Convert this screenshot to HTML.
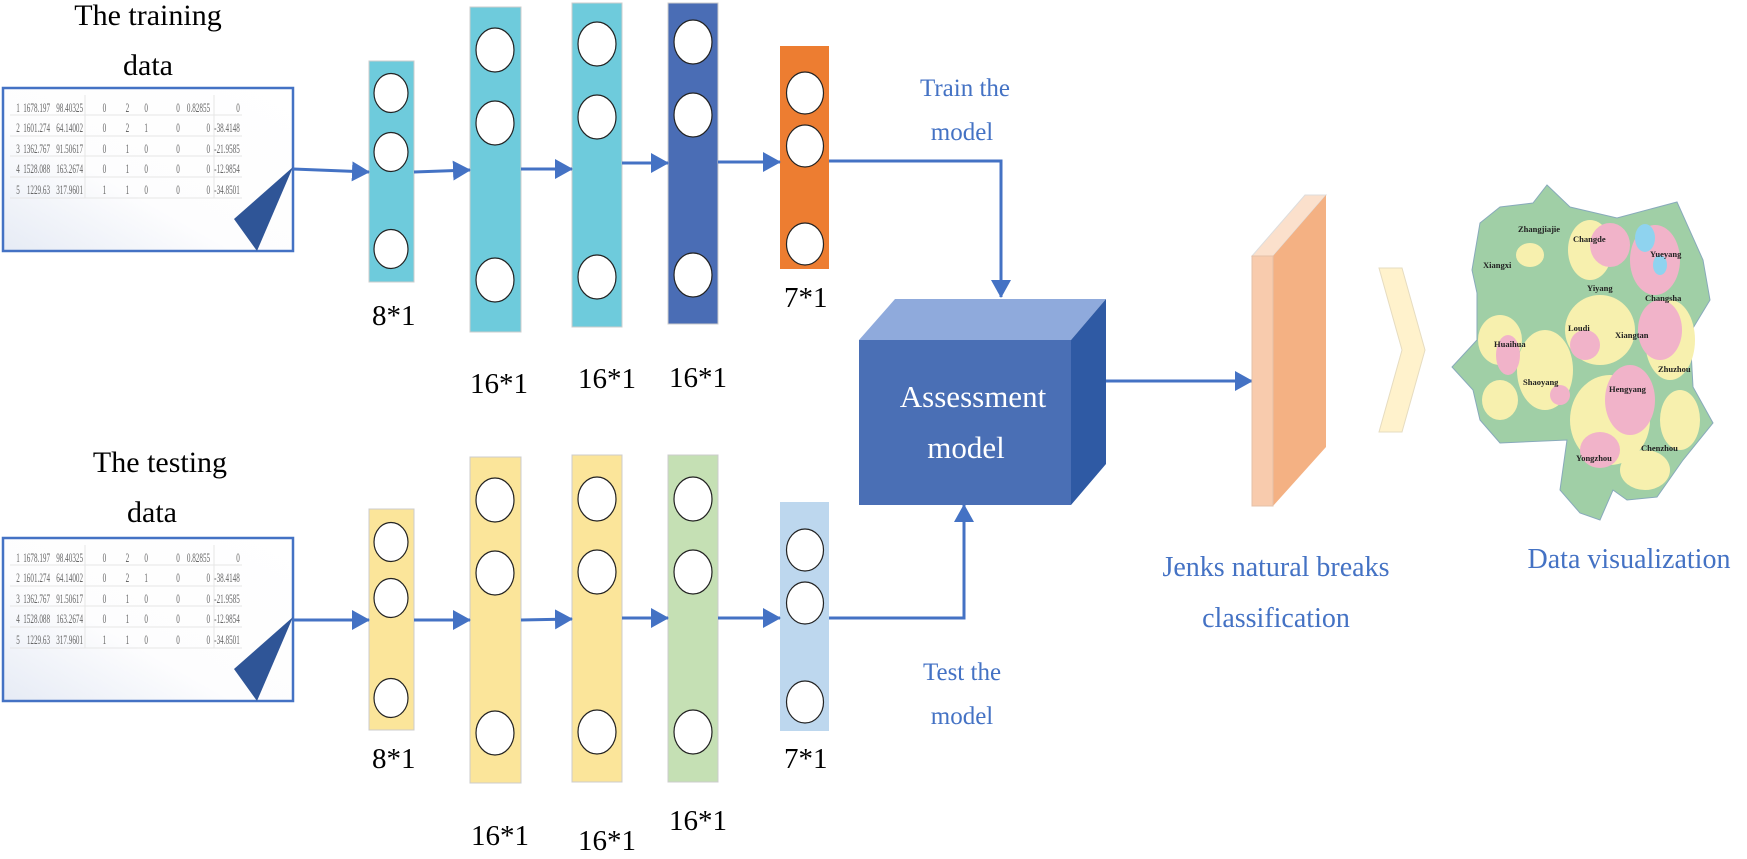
<!DOCTYPE html>
<html><head><meta charset="utf-8"><style>
body{margin:0;background:#fff}
svg text{font-family:"Liberation Serif",serif}
</style></head><body>
<svg width="1747" height="854" viewBox="0 0 1747 854" xmlns="http://www.w3.org/2000/svg">
<defs>
<marker id="a" markerWidth="18" markerHeight="20" refX="17" refY="10" orient="auto" markerUnits="userSpaceOnUse"><path d="M0,0 L18,10 L0,20 z" fill="#4472c4"/></marker>
<linearGradient id="g" x1="1" y1="0" x2="0" y2="1"><stop offset="0" stop-color="#fff"/><stop offset="0.6" stop-color="#fdfdfe"/><stop offset="1" stop-color="#e6ebf5"/></linearGradient>
</defs>
<text x="148" y="25" font-size="30" text-anchor="middle">The training</text>
<text x="148" y="75" font-size="30" text-anchor="middle">data</text>
<text x="160" y="472" font-size="30" text-anchor="middle">The testing</text>
<text x="152" y="522" font-size="30" text-anchor="middle">data</text>

<g id="tb">
<rect x="3" y="88" width="290" height="163" fill="url(#g)" stroke="#4472c4" stroke-width="2.5"/>
<g stroke="#e6e6e6" stroke-width="1"><line x1="10" y1="115" x2="242" y2="115"/><line x1="10" y1="136" x2="242" y2="136"/><line x1="10" y1="156" x2="242" y2="156"/><line x1="10" y1="177" x2="242" y2="177"/><line x1="10" y1="198" x2="242" y2="198"/>
<line x1="85" y1="95" x2="85" y2="198"/><line x1="214" y1="95" x2="214" y2="198"/></g>
<g transform="scale(0.55,1)" font-family="Liberation Sans,sans-serif" font-size="13" fill="#666" text-anchor="end">
<text x="36" y="112">1</text><text x="91" y="112">1678.197</text><text x="151" y="112">98.40325</text><text x="193" y="112">0</text><text x="235" y="112">2</text><text x="269" y="112">0</text><text x="327" y="112">0</text><text x="382" y="112">0.82855</text><text x="436" y="112">0</text>
<text x="36" y="132">2</text><text x="91" y="132">1601.274</text><text x="151" y="132">64.14002</text><text x="193" y="132">0</text><text x="235" y="132">2</text><text x="269" y="132">1</text><text x="327" y="132">0</text><text x="382" y="132">0</text><text x="436" y="132">-38.4148</text>
<text x="36" y="153">3</text><text x="91" y="153">1362.767</text><text x="151" y="153">91.50617</text><text x="193" y="153">0</text><text x="235" y="153">1</text><text x="269" y="153">0</text><text x="327" y="153">0</text><text x="382" y="153">0</text><text x="436" y="153">-21.9585</text>
<text x="36" y="173">4</text><text x="91" y="173">1528.088</text><text x="151" y="173">163.2674</text><text x="193" y="173">0</text><text x="235" y="173">1</text><text x="269" y="173">0</text><text x="327" y="173">0</text><text x="382" y="173">0</text><text x="436" y="173">-12.9854</text>
<text x="36" y="194">5</text><text x="91" y="194">1229.63</text><text x="151" y="194">317.9601</text><text x="193" y="194">1</text><text x="235" y="194">1</text><text x="269" y="194">0</text><text x="327" y="194">0</text><text x="382" y="194">0</text><text x="436" y="194">-34.8501</text>
</g>
<polygon points="293,167 234,219 257,251" fill="#2f5597"/>
</g>
<use href="#tb" transform="translate(0,450)"/>

<g stroke="#ccc" stroke-width="1">
<rect x="369" y="61" width="45" height="221" fill="#6ecbdc"/>
<rect x="470" y="7" width="51" height="325" fill="#6ecbdc"/>
<rect x="572" y="3" width="50" height="324" fill="#6ecbdc"/>
<rect x="668" y="3" width="50" height="321" fill="#4a6db5"/>
<rect x="780" y="46" width="49" height="223" fill="#ed7d31" stroke="none"/>
<rect x="369" y="509" width="45" height="221" fill="#fbe59a"/>
<rect x="470" y="457" width="51" height="326" fill="#fbe59a"/>
<rect x="572" y="455" width="50" height="327" fill="#fbe59a"/>
<rect x="668" y="455" width="50" height="327" fill="#c5e0b4"/>
<rect x="780" y="502" width="49" height="229" fill="#bdd7ee" stroke="none"/>
</g>
<g fill="#fff" stroke="#222" stroke-width="1.2">
<ellipse cx="391" cy="93" rx="17" ry="19.5"/><ellipse cx="391" cy="152" rx="17" ry="19.5"/><ellipse cx="391" cy="249" rx="17" ry="19.5"/>
<ellipse cx="495" cy="50" rx="19" ry="22"/><ellipse cx="495" cy="123" rx="19" ry="22"/><ellipse cx="495" cy="280" rx="19" ry="22"/>
<ellipse cx="597" cy="44" rx="19" ry="22"/><ellipse cx="597" cy="117" rx="19" ry="22"/><ellipse cx="597" cy="277" rx="19" ry="22"/>
<ellipse cx="693" cy="42" rx="19" ry="22"/><ellipse cx="693" cy="115" rx="19" ry="22"/><ellipse cx="693" cy="275" rx="19" ry="22"/>
<ellipse cx="805" cy="93" rx="18.5" ry="21"/><ellipse cx="805" cy="146" rx="18.5" ry="21"/><ellipse cx="805" cy="244" rx="18.5" ry="21"/>
<ellipse cx="391" cy="542" rx="17" ry="19.5"/><ellipse cx="391" cy="598" rx="17" ry="19.5"/><ellipse cx="391" cy="698" rx="17" ry="19.5"/>
<ellipse cx="495" cy="500" rx="19" ry="22"/><ellipse cx="495" cy="573" rx="19" ry="22"/><ellipse cx="495" cy="733" rx="19" ry="22"/>
<ellipse cx="597" cy="499" rx="19" ry="22"/><ellipse cx="597" cy="572" rx="19" ry="22"/><ellipse cx="597" cy="732" rx="19" ry="22"/>
<ellipse cx="693" cy="499" rx="19" ry="22"/><ellipse cx="693" cy="572" rx="19" ry="22"/><ellipse cx="693" cy="732" rx="19" ry="22"/>
<ellipse cx="805" cy="550" rx="18.5" ry="21"/><ellipse cx="805" cy="603" rx="18.5" ry="21"/><ellipse cx="805" cy="702" rx="18.5" ry="21"/>
</g>
<g font-size="29">
<text x="372" y="325">8*1</text><text x="470" y="393">16*1</text><text x="578" y="388">16*1</text><text x="669" y="387">16*1</text><text x="784" y="307">7*1</text>
<text x="372" y="768">8*1</text><text x="471" y="845">16*1</text><text x="578" y="850">16*1</text><text x="669" y="830">16*1</text><text x="784" y="768">7*1</text>
</g>

<g stroke="#4472c4" stroke-width="3" fill="none" marker-end="url(#a)">
<line x1="293" y1="169" x2="369" y2="172"/>
<line x1="414" y1="172" x2="470" y2="170"/>
<line x1="521" y1="169" x2="572" y2="169"/>
<line x1="622" y1="163" x2="668" y2="163"/>
<line x1="718" y1="162" x2="780" y2="162"/>
<polyline points="829,161 1001,161 1001,297"/>
<line x1="293" y1="620" x2="369" y2="620"/>
<line x1="414" y1="620" x2="470" y2="620"/>
<line x1="521" y1="620" x2="572" y2="619"/>
<line x1="622" y1="618" x2="668" y2="618"/>
<line x1="718" y1="618" x2="780" y2="618"/>
<polyline points="829,618 964,618 964,505"/>
<line x1="1106" y1="381" x2="1252" y2="381"/>
</g>
<g font-size="25" fill="#4472c4" text-anchor="middle">
<text x="965" y="96">Train the</text><text x="962" y="140">model</text>
<text x="962" y="680">Test the</text><text x="962" y="724">model</text>
</g>

<polygon points="859,340 895,299 1106,299 1071,340" fill="#8faadc"/>
<polygon points="1071,340 1106,299 1106,464 1071,505" fill="#2f5aa4"/>
<rect x="859" y="340" width="212" height="165" fill="#4a6fb5"/>
<text x="973" y="407" font-size="31" fill="#fff" text-anchor="middle">Assessment</text>
<text x="966" y="458" font-size="31" fill="#fff" text-anchor="middle">model</text>

<polygon points="1252,256 1305,195 1326,195 1273,256" fill="#fbe0cc" stroke="#ddd" stroke-width="1"/>
<polygon points="1273,256 1326,195 1326,447 1273,506" fill="#f4b183"/>
<rect x="1252" y="256" width="21" height="250" fill="#f8cbad" stroke="#e5c0a8" stroke-width="1"/>
<polygon points="1379,268 1402,268 1425,350 1402,432 1379,432 1402,350" fill="#fff2cc" stroke="#e6dcc0"/>

<path d="M1533,203 L1547,185 L1570,207 L1617,218 L1677,202 L1703,260 L1710,300 L1690,333 L1693,387 L1713,423 L1683,460 L1657,497 L1627,500 L1613,490 L1600,520 L1580,513 L1560,490 L1567,440 L1500,443 L1480,420 L1473,390 L1452,367 L1477,340 L1477,293 L1472,270 L1480,223 L1500,207 Z" fill="#a0cfa6" stroke="#8ab" stroke-width="1"/>
<g fill="#f7f0ae">
<ellipse cx="1500" cy="340" rx="22" ry="25"/><ellipse cx="1545" cy="370" rx="28" ry="40"/>
<ellipse cx="1600" cy="330" rx="35" ry="35"/><ellipse cx="1610" cy="420" rx="40" ry="45"/>
<ellipse cx="1670" cy="340" rx="25" ry="40"/><ellipse cx="1590" cy="250" rx="22" ry="30"/>
<ellipse cx="1680" cy="420" rx="20" ry="30"/><ellipse cx="1645" cy="470" rx="25" ry="20"/>
<ellipse cx="1500" cy="400" rx="18" ry="20"/><ellipse cx="1530" cy="255" rx="14" ry="12"/>
</g>
<g fill="#f1b3c9">
<ellipse cx="1610" cy="245" rx="20" ry="22"/><ellipse cx="1655" cy="260" rx="25" ry="35"/>
<ellipse cx="1660" cy="330" rx="22" ry="30"/><ellipse cx="1630" cy="400" rx="25" ry="35"/>
<ellipse cx="1585" cy="345" rx="15" ry="15"/><ellipse cx="1508" cy="355" rx="12" ry="20"/>
<ellipse cx="1600" cy="450" rx="20" ry="18"/><ellipse cx="1560" cy="395" rx="10" ry="10"/>
</g>
<g fill="#8fd3ef"><ellipse cx="1645" cy="238" rx="10" ry="14"/><ellipse cx="1660" cy="265" rx="7" ry="10"/></g>
<g font-family="Liberation Sans,sans-serif" font-size="8.5" font-weight="bold" fill="#222">
<text x="1518" y="232">Zhangjiajie</text><text x="1573" y="242">Changde</text><text x="1483" y="268">Xiangxi</text>
<text x="1650" y="257">Yueyang</text><text x="1587" y="291">Yiyang</text><text x="1645" y="301">Changsha</text>
<text x="1568" y="331">Loudi</text><text x="1615" y="338">Xiangtan</text><text x="1494" y="347">Huaihua</text>
<text x="1658" y="372">Zhuzhou</text><text x="1523" y="385">Shaoyang</text><text x="1609" y="392">Hengyang</text>
<text x="1641" y="451">Chenzhou</text><text x="1576" y="461">Yongzhou</text>
</g>

<g font-size="28" fill="#4472c4" text-anchor="middle">
<text x="1276" y="576">Jenks natural breaks</text>
<text x="1276" y="627">classification</text>
<text x="1629" y="568">Data visualization</text>
</g>
</svg>
</body></html>
